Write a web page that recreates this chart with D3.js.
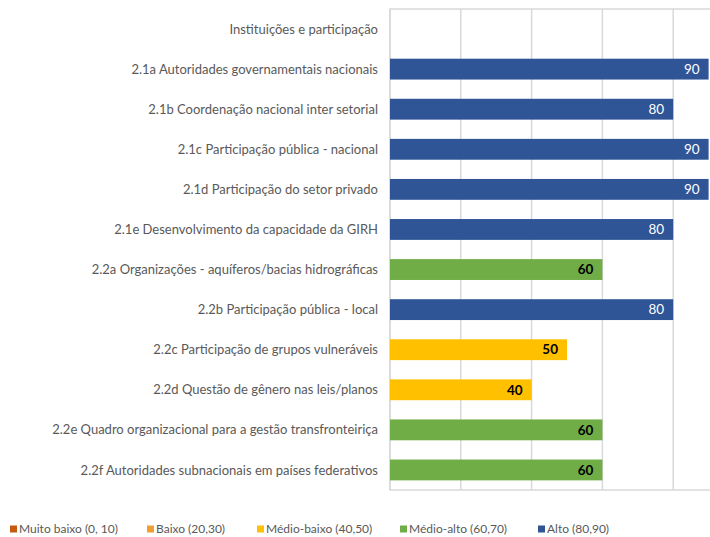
<!DOCTYPE html>
<html>
<head>
<meta charset="utf-8">
<script src="https://cdn.jsdelivr.net/npm/d3@7"></script>
<style>
  body { margin: 0; background: #fff; }
  svg { display: block; font-family: Lato, "Open Sans", sans-serif; }
</style>
</head>
<body>
<div id="chart"></div>
<script>
// Data
const categories = [
    "Instituições e participação",
    "2.1a Autoridades governamentais nacionais",
    "2.1b Coordenação nacional inter setorial",
    "2.1c Participação pública - nacional",
    "2.1d Participação do setor privado",
    "2.1e Desenvolvimento da capacidade da GIRH",
    "2.2a Organizações - aquíferos/bacias hidrográficas",
    "2.2b Participação pública - local",
    "2.2c Participação de grupos vulneráveis",
    "2.2d Questão de gênero nas leis/planos",
    "2.2e Quadro organizacional para a gestão transfronteiriça",
    "2.2f Autoridades subnacionais em países federativos"
];
const values = [null, 90, 80, 90, 90, 80, 60, 80, 50, 40, 60, 60];

const levelNames = ["Muito baixo (0, 10)", "Baixo (20,30)", "Médio-baixo (40,50)", "Médio-alto (60,70)", "Alto (80,90)"];
const levelColors = ["#c55a11", "#f0a030", "#ffc000", "#70ad47", "#2f5597"];
const xTicks = [0, 20, 40, 60, 80, 100];

// level index from score: 0-10 -> 0, 20-30 -> 1, ...
const levelOf = v => Math.min(4, Math.floor(v / 20));

const width = 710;
const height = 537;
const margin = { top: 9, left: 390, bottom: 47 };
const plotW = 354; // extends past the right edge, as in the source

const svg = d3.select("#chart").append("svg")
    .attr("width", width)
    .attr("height", height);

const x = d3.scaleLinear().domain([0, 100]).range([margin.left, margin.left + plotW]);
const y = d3.scaleBand()
    .domain(categories)
    .range([margin.top, height - margin.bottom])
    .paddingInner(0.48)
    .paddingOuter(0.24);

// gridlines
svg.append("g")
    .selectAll("line")
    .data(xTicks)
    .join("line")
    .attr("x1", d => x(d)).attr("x2", d => x(d))
    .attr("y1", margin.top).attr("y2", height - margin.bottom)
    .attr("stroke", "#d9d9d9")
    .attr("stroke-width", 1.5);

// plot frame (top / bottom)
svg.append("rect")
    .attr("x", x(0))
    .attr("y", margin.top)
    .attr("width", plotW + 10)
    .attr("height", height - margin.bottom - margin.top)
    .attr("fill", "none")
    .attr("stroke", "#d9d9d9")
    .attr("stroke-width", 1.5);

const rows = categories.map((c, i) => ({ name: c, value: values[i] }));
const bars = rows.filter(d => d.value != null);

svg.append("g")
    .selectAll("rect")
    .data(bars)
    .join("rect")
    .attr("x", x(0))
    .attr("y", d => y(d.name))
    .attr("width", d => x(d.value) - x(0))
    .attr("height", y.bandwidth())
    .attr("fill", d => levelColors[levelOf(d.value)]);

// value labels
svg.append("g")
    .selectAll("text")
    .data(bars)
    .join("text")
    .attr("x", d => x(d.value) - 9)
    .attr("y", d => y(d.name) + y.bandwidth() / 2)
    .attr("dy", "0.35em")
    .attr("text-anchor", "end")
    .attr("font-size", 13.5)
    .attr("font-weight", d => levelOf(d.value) === 4 ? "normal" : "bold")
    .attr("fill", d => levelOf(d.value) === 4 ? "#ffffff" : "#000000")
    .text(d => d.value);

// category labels
svg.append("g")
    .selectAll("text")
    .data(categories)
    .join("text")
    .attr("x", margin.left - 12)
    .attr("y", d => y(d) + y.bandwidth() / 2)
    .attr("dy", "0.35em")
    .attr("text-anchor", "end")
    .attr("font-size", 13)
    .attr("fill", "#595959")
    .text(d => d);

// legend
const legendX = [10, 147, 257, 400, 538];
const legend = svg.append("g")
    .selectAll("g")
    .data(levelNames)
    .join("g")
    .attr("transform", (d, i) => `translate(${legendX[i]},529)`);

legend.append("rect")
    .attr("x", 0).attr("y", -3.5)
    .attr("width", 7).attr("height", 7)
    .attr("fill", (d, i) => levelColors[i]);

legend.append("text")
    .attr("x", 9)
    .attr("dy", "0.35em")
    .attr("font-size", 12)
    .attr("fill", "#595959")
    .text(d => d);
</script>
</body>
</html>
